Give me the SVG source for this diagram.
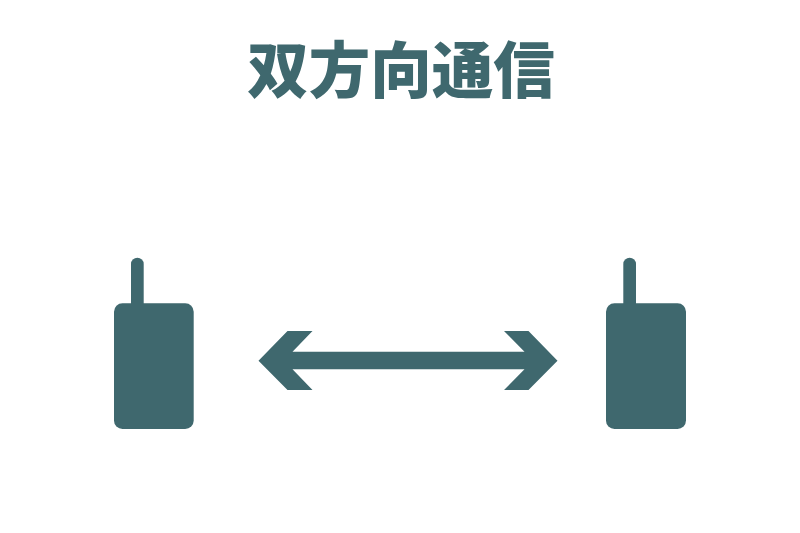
<svg xmlns="http://www.w3.org/2000/svg" width="800" height="533" viewBox="0 0 800 533">
<style>.f{fill:#3f686e}.t{font-family:"Noto Sans CJK JP","Noto Sans CJK SC",sans-serif;font-weight:900;font-size:61.500px;text-anchor:middle}</style>
<rect width="800" height="533" fill="#fff"/>
<text class="f t" x="401" y="93">双方向通信</text>
<g id="left-radio"><rect class="f" x="114" y="303.300" width="79.700" height="125.700" rx="8.500"/><path class="f" d="M131 304V264a6.350 6.350 0 0 1 12.700 0V304Z"/></g>
<g id="right-radio"><rect class="f" x="606" y="303.300" width="80" height="125.700" rx="8.500"/><path class="f" d="M623.300 304V264a6.350 6.350 0 0 1 12.700 0V304Z"/></g>
<g id="connectors"><path class="f" d="M258.500 360.700L287.500 331H312.500L292.500 351.700H524.500L504 331H528.500L557.500 360.700L528.500 390H504L524.500 369.300H292.500L312.500 390H287.500Z"/></g>
</svg>
